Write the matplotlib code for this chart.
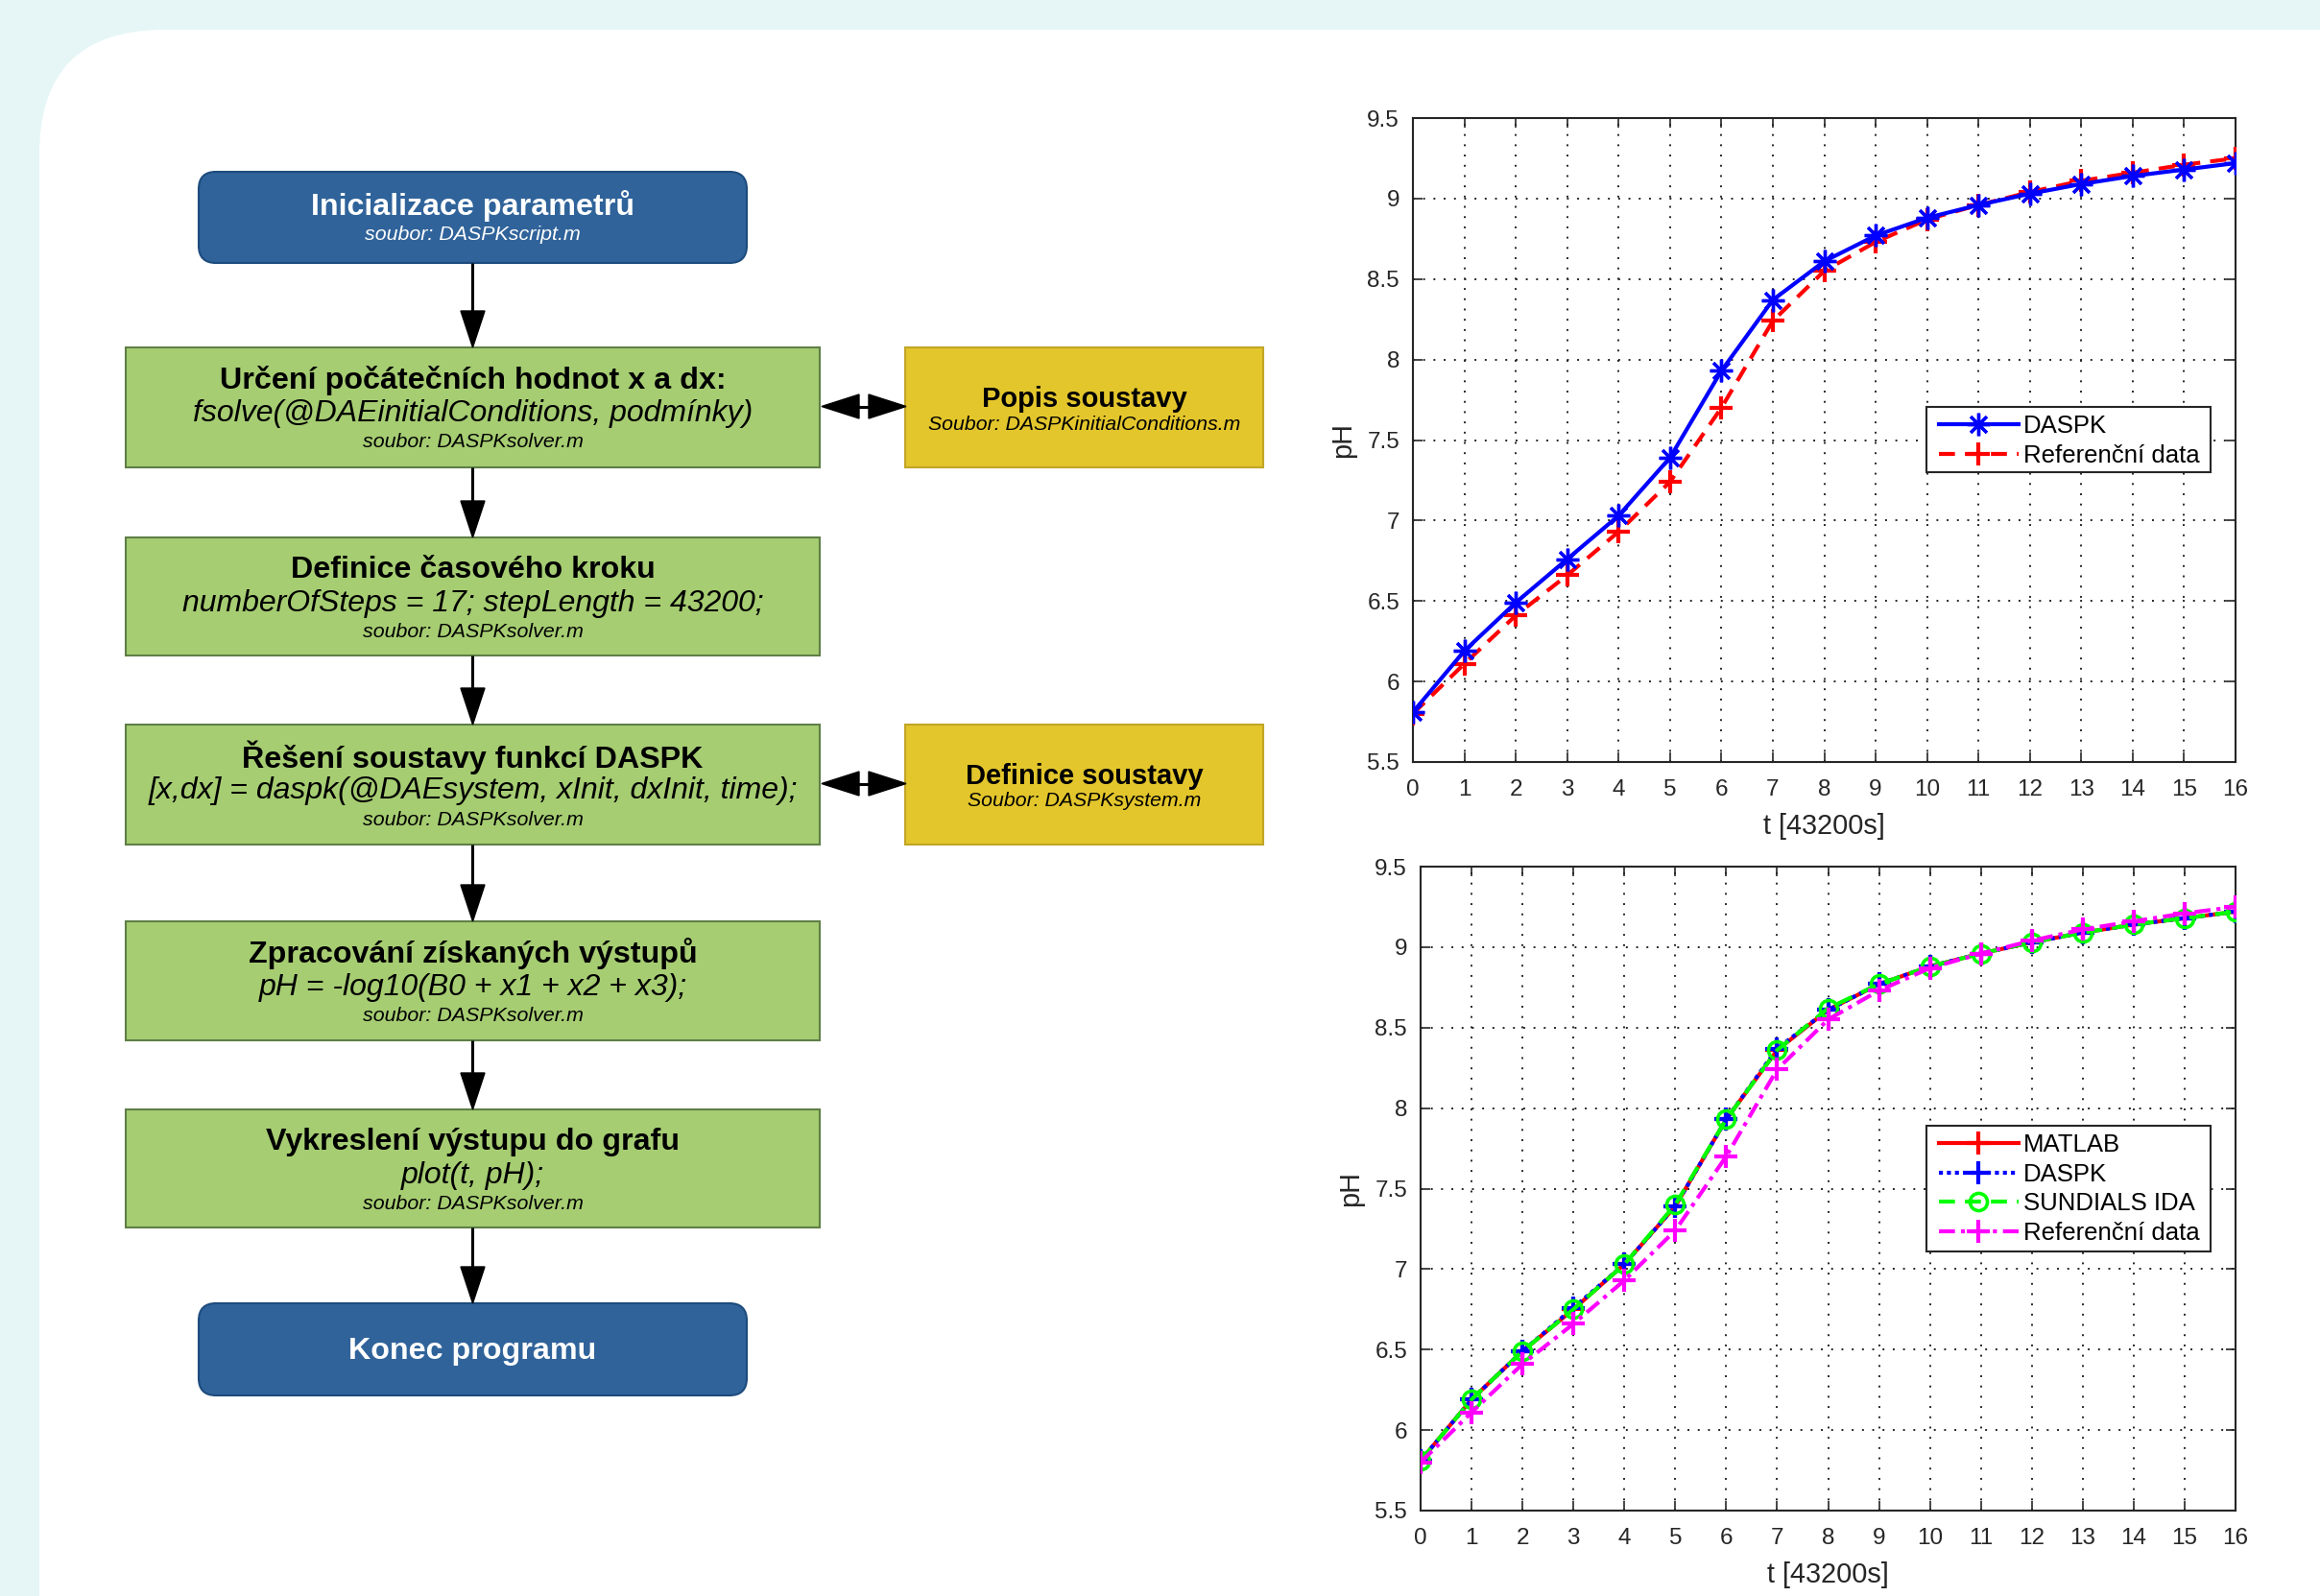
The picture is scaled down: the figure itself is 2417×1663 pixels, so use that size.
import matplotlib
matplotlib.use("Agg")
import matplotlib.pyplot as plt
from matplotlib.patches import FancyBboxPatch, Rectangle, Polygon

plt.rcParams['font.family'] = ['Liberation Sans', 'DejaVu Sans']

# ---------------- data ----------------
t = list(range(17))
x_ticks = list(range(17))
y_ticks = [5.5, 6, 6.5, 7, 7.5, 8, 8.5, 9, 9.5]
y_tick_labels = ["5.5", "6", "6.5", "7", "7.5", "8", "8.5", "9", "9.5"]

daspk_top = [5.81, 6.19, 6.49, 6.76, 7.03, 7.39, 7.93, 8.37, 8.61, 8.77, 8.88, 8.96, 9.03, 9.09, 9.14, 9.18, 9.22]
ref_top = [5.80, 6.11, 6.41, 6.66, 6.93, 7.24, 7.70, 8.24, 8.55, 8.73, 8.87, 8.96, 9.04, 9.11, 9.16, 9.21, 9.25]

matlab_bot = [5.81, 6.19, 6.49, 6.75, 7.03, 7.39, 7.93, 8.36, 8.61, 8.77, 8.88, 8.96, 9.03, 9.09, 9.14, 9.18, 9.22]
daspk_bot = [5.81, 6.19, 6.49, 6.76, 7.03, 7.39, 7.93, 8.37, 8.61, 8.77, 8.88, 8.96, 9.03, 9.09, 9.14, 9.18, 9.22]
sundials_bot = [5.81, 6.19, 6.49, 6.75, 7.03, 7.40, 7.93, 8.36, 8.62, 8.77, 8.88, 8.96, 9.03, 9.09, 9.14, 9.18, 9.22]
ref_bot = [5.80, 6.11, 6.41, 6.66, 6.93, 7.24, 7.70, 8.24, 8.55, 8.73, 8.87, 8.96, 9.04, 9.11, 9.16, 9.21, 9.25]

x_label = "t [43200s]"
y_label = "pH"

# flowchart texts
fc_main = [
    ("blue", "Inicializace parametrů", None, "soubor: DASPKscript.m"),
    ("green", "Určení počátečních hodnot x a dx:", "fsolve(@DAEinitialConditions, podmínky)", "soubor: DASPKsolver.m"),
    ("green", "Definice časového kroku", "numberOfSteps = 17; stepLength = 43200;", "soubor: DASPKsolver.m"),
    ("green", "Řešení soustavy funkcí DASPK", "[x,dx] = daspk(@DAEsystem, xInit, dxInit, time);", "soubor: DASPKsolver.m"),
    ("green", "Zpracování získaných výstupů", "pH = -log10(B0 + x1 + x2 + x3);", "soubor: DASPKsolver.m"),
    ("green", "Vykreslení výstupu do grafu", "plot(t, pH);", "soubor: DASPKsolver.m"),
    ("blue", "Konec programu", None, None),
]
fc_side = [
    ("Popis soustavy", "Soubor: DASPKinitialConditions.m"),
    ("Definice soustavy", "Soubor: DASPKsystem.m"),
]

# ---------------- figure ----------------
W, H = 2417, 1663
fig = plt.figure(figsize=(W / 100, H / 100), dpi=100)
fig.patch.set_facecolor('#E6F6F6')

bg = fig.add_axes([0, 0, 1, 1])
bg.set_xlim(0, W)
bg.set_ylim(H, 0)
bg.axis('off')
bg.set_zorder(0)

# white panel with rounded corner
bg.add_patch(FancyBboxPatch((41, 31), W + 400, H + 400,
                            boxstyle="round,pad=0,rounding_size=130",
                            fc='white', ec='none'))

BLUE, BLUE_E = '#30639A', '#1D4B7D'
GREEN, GREEN_E = '#A6CD72', '#5F7F46'
YEL, YEL_E = '#E3C62C', '#C2A526'

TITLE_FS = 23.2
CODE_FS = 23
SRC_FS = 15.4

cx = 492.5
blue_x0, blue_x1 = 207, 778
green_x0, green_x1 = 131, 854
box_y = [(179, 274), (362, 487), (560, 683), (755, 880), (960, 1084), (1156, 1279), (1358, 1454)]

for (kind, title, code, src), (y0, y1) in zip(fc_main, box_y):
    if kind == "blue":
        bg.add_patch(FancyBboxPatch((blue_x0, y0), blue_x1 - blue_x0, y1 - y0,
                                    boxstyle="round,pad=0,rounding_size=18",
                                    fc=BLUE, ec=BLUE_E, lw=1.5))
        if src is None:
            bg.text(cx, (y0 + y1) / 2 + 2, title, ha='center', va='center',
                    fontsize=TITLE_FS, fontweight='bold', color='white')
        else:
            bg.text(cx, y0 + 36, title, ha='center', va='center',
                    fontsize=TITLE_FS, fontweight='bold', color='white')
            bg.text(cx, y0 + 66, src, ha='center', va='center',
                    fontsize=SRC_FS, style='italic', color='white')
    else:
        bg.add_patch(Rectangle((green_x0, y0), green_x1 - green_x0, y1 - y0,
                               fc=GREEN, ec=GREEN_E, lw=1.5))
        bg.text(cx, y0 + 34, title, ha='center', va='center',
                fontsize=TITLE_FS, fontweight='bold', color='black')
        bg.text(cx, y0 + 69, code, ha='center', va='center',
                fontsize=CODE_FS, style='italic', color='black')
        bg.text(cx, y0 + 99, src, ha='center', va='center',
                fontsize=SRC_FS, style='italic', color='black')

# side boxes
side_y = [(362, 487), (755, 880)]
yx0, yx1 = 943, 1316
ycx = (yx0 + yx1) / 2
for (title, src), (y0, y1) in zip(fc_side, side_y):
    bg.add_patch(Rectangle((yx0, y0), yx1 - yx0, y1 - y0, fc=YEL, ec=YEL_E, lw=1.5))
    bg.text(ycx, y0 + 54, title, ha='center', va='center',
            fontsize=21, fontweight='bold', color='black')
    bg.text(ycx, y0 + 80, src, ha='center', va='center',
            fontsize=15.3, style='italic', color='black')


def head(tip, direction, length=38, width=25):
    x, y = tip
    if direction == 'down':
        pts = [(x, y), (x - width / 2, y - length), (x + width / 2, y - length)]
    elif direction == 'left':
        pts = [(x, y), (x + length, y - width / 2), (x + length, y + width / 2)]
    else:
        pts = [(x, y), (x - length, y - width / 2), (x - length, y + width / 2)]
    bg.add_patch(Polygon(pts, closed=True, fc='black', ec='black', lw=1))


# vertical arrows
for (a0, a1), (b0, b1) in zip(box_y[:-1], box_y[1:]):
    bg.plot([cx, cx], [a1, b0 - 30], color='black', lw=2.2, solid_capstyle='butt')
    head((cx, b0), 'down')

# double arrows
for (y0, y1) in side_y:
    ym = (y0 + y1) / 2 - 1
    bg.plot([880, 920], [ym, ym], color='black', lw=2.2)
    head((856, ym), 'left', length=39)
    head((944, ym), 'right', length=39)

# ---------------- plots ----------------
ASTERISK = (8, 2, 0)
INK = '#262626'


def style_axes(ax, ylabel_pad):
    ax.set_xlim(0, 16)
    ax.set_ylim(5.5, 9.5)
    ax.set_xticks(x_ticks)
    ax.set_xticklabels([str(v) for v in x_ticks])
    ax.set_yticks(y_ticks)
    ax.set_yticklabels(y_tick_labels)
    ax.tick_params(direction='in', length=7, width=1.2, top=True, right=True,
                   labelsize=17.5, colors=INK)
    ax.tick_params(axis='x', pad=13)
    ax.tick_params(axis='y', pad=10)
    ax.grid(True, color=INK, linestyle=(0, (1, 4.5)), linewidth=1.4)
    for s in ax.spines.values():
        s.set_linewidth(1.5)
        s.set_color(INK)
    ax.set_xlabel(x_label, fontsize=20.8, color=INK, labelpad=9)
    ax.set_ylabel(y_label, fontsize=20.8, color=INK, labelpad=ylabel_pad)
    ax.set_axisbelow(True)


LEG_KW = dict(fontsize=18.5, frameon=False, handlelength=3.23,
              handletextpad=0.2, borderaxespad=0, borderpad=0,
              labelspacing=0.26, loc='upper left')


def legend_box(ax, ax_px, box_px, handles=None, labels=None):
    """ax_px: (left, top, right, bottom) of axes in px; box_px: legend frame px."""
    al, at, ar, ab = ax_px
    bl, bt, br, bb = box_px
    aw, ah = ar - al, ab - at
    frame = Rectangle(((bl - al) / aw, (ab - bb) / ah), (br - bl) / aw, (bb - bt) / ah,
                      transform=ax.transAxes, fc='white', ec=INK, lw=1.5,
                      zorder=9, clip_on=False)
    ax.add_patch(frame)
    anchor = ((bl + 13 - al) / aw, (ab - (bt + 8)) / ah)
    if handles is None:
        leg = ax.legend(bbox_to_anchor=anchor, **LEG_KW)
    else:
        leg = ax.legend(handles, labels, bbox_to_anchor=anchor, **LEG_KW)
    leg.set_zorder(10)
    return leg


AX1 = (1472, 123, 2329, 794)
ax1 = fig.add_axes([AX1[0] / W, 1 - AX1[3] / H, (AX1[2] - AX1[0]) / W, (AX1[3] - AX1[1]) / H])
ax1.set_zorder(2)
ax1.plot(t, ref_top, color='#FF0000', lw=3, linestyle=(0, (4, 2.5)),
         marker='+', markersize=17, markeredgewidth=3, label='Referenční data', zorder=3)
ax1.plot(t, daspk_top, color='#0000FF', lw=3, linestyle='-',
         marker=ASTERISK, markersize=17, markeredgewidth=2.4, label='DASPK', zorder=4)
style_axes(ax1, 8)
h, l = ax1.get_legend_handles_labels()
legend_box(ax1, AX1, (2007, 424, 2303, 492), [h[1], h[0]], [l[1], l[0]])

AX2 = (1480, 903, 2329, 1574)
ax2 = fig.add_axes([AX2[0] / W, 1 - AX2[3] / H, (AX2[2] - AX2[0]) / W, (AX2[3] - AX2[1]) / H])
ax2.set_zorder(2)
ax2.plot(t, matlab_bot, color='#FF0000', lw=3, linestyle='-',
         marker='+', markersize=17, markeredgewidth=3, label='MATLAB', zorder=3)
ax2.plot(t, daspk_bot, color='#0000FF', lw=3, linestyle=(0, (1, 1)),
         marker='+', markersize=17, markeredgewidth=3, label='DASPK', zorder=4)
ax2.plot(t, sundials_bot, color='#00FF00', lw=3, linestyle=(0, (4, 2.5)),
         marker='o', markersize=13, markeredgewidth=2.6, markerfacecolor='none',
         label='SUNDIALS IDA', zorder=5)
ax2.plot(t, ref_bot, color='#FF00FF', lw=3, linestyle=(0, (4, 1.5, 1, 1.5)),
         marker='+', markersize=17, markeredgewidth=3, label='Referenční data', zorder=6)
style_axes(ax2, 8)
legend_box(ax2, AX2, (2007, 1173, 2303, 1304))

fig.savefig('out.png', dpi=100, facecolor=fig.get_facecolor())
